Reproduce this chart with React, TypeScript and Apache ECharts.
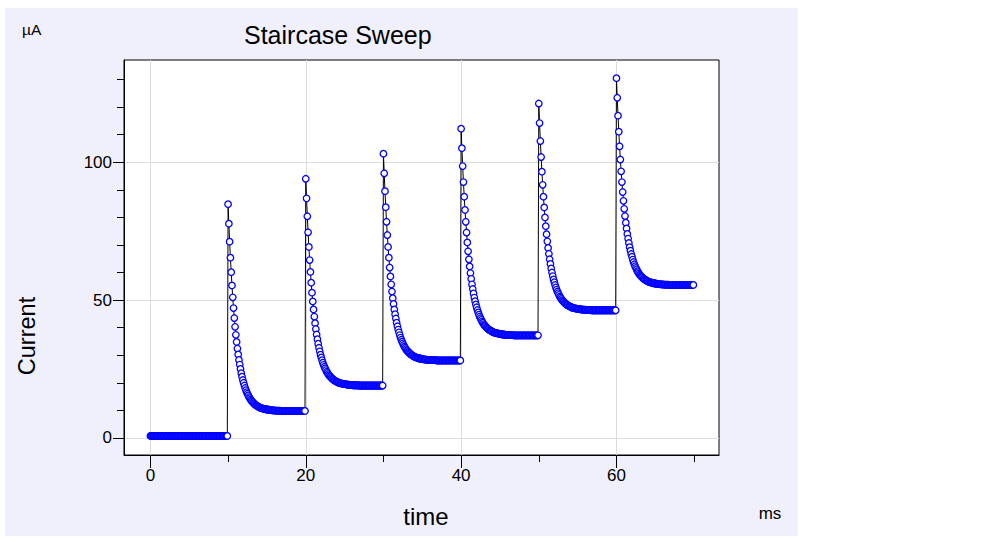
import React, { useEffect, useRef } from "react";
import * as echarts from "echarts";

const FONT = "'Liberation Sans', Arial, sans-serif";

// time between samples (ms) and samples recorded in each 10 ms step
const SAMPLE_STEP_MS = 0.1;
const SAMPLES_PER_STEP = 100;

// start time (ms) of each potential step and the settled current (µA) it reaches
const STEP_START_MS = [0, 10, 20, 30, 40, 50, 60];
const STEP_LEVEL_UA = [0.7, 9.8, 19.0, 28.1, 37.2, 46.3, 55.5];

// charging transient: current above the settled level (µA), per sample after a step
const TRANSIENT_UA = [
  75.0, 67.9, 61.4, 55.6, 50.3, 45.5, 41.2, 37.3, 33.7, 30.5,
  27.6, 25.0, 22.6, 20.5, 18.5, 16.8, 15.2, 13.7, 12.4, 11.2,
  10.2, 9.2, 8.3, 7.5, 6.8, 6.2, 5.6, 5.0, 4.6, 4.1,
  3.7, 3.4, 3.1, 2.8, 2.5, 2.3, 2.0, 1.9, 1.7, 1.5,
  1.4, 1.2, 1.1, 1.0, 0.9, 0.8, 0.8, 0.7, 0.6, 0.6,
  0.5, 0.5, 0.4, 0.4, 0.3, 0.3, 0.3, 0.2, 0.2, 0.2,
  0.2, 0.1, 0.1, 0.1, 0.1, 0.1, 0.1, 0.1, 0.0, 0.0,
  0.0, 0.0, 0.0, 0.0, 0.0, 0.0, 0.0, 0.0, 0.0, 0.0,
  0.0, 0.0, 0.0, 0.0, 0.0, 0.0, 0.0, 0.0, 0.0, 0.0,
  0.0, 0.0, 0.0, 0.0, 0.0, 0.0, 0.0, 0.0, 0.0, 0.0,
];

const X_MAJOR_TICKS = [0, 20, 40, 60];
const X_MINOR_TICKS = [10, 30, 50, 70];
const Y_MAJOR_TICKS = [0, 50, 100];
const Y_MINOR_TICKS = [10, 20, 30, 40, 60, 70, 80, 90, 110, 120, 130];

const X_MIN = -3.4;
const X_MAX = 73.2;
const Y_MIN = -6.2;
const Y_MAX = 137.1;

function buildData(): [number, number][] {
  const out: [number, number][] = [];
  STEP_START_MS.forEach((start, s) => {
    for (let k = 0; k < SAMPLES_PER_STEP; k++) {
      const t = Math.round((start + k * SAMPLE_STEP_MS) * 10) / 10;
      const v = STEP_LEVEL_UA[s] + (s === 0 ? 0 : TRANSIENT_UA[k]);
      out.push([t, v]);
    }
  });
  return out;
}

export default function App() {
  const ref = useRef<HTMLDivElement>(null);

  useEffect(() => {
    document.body.style.margin = "0";
    if (!ref.current) return;
    const chart = echarts.init(ref.current, undefined, { renderer: "svg" });
    const black = { color: "#000000", width: 1 };

    chart.setOption({
      animation: false,
      backgroundColor: "#ffffff",
      textStyle: { fontFamily: FONT },
      grid: {
        left: 124,
        top: 60,
        right: 266,
        bottom: 89,
        show: true,
        backgroundColor: "#ffffff",
        borderColor: "#000000",
        borderWidth: 1,
        containLabel: false,
        outerBoundsMode: "none",
      },
      xAxis: [
        {
          type: "value",
          min: X_MIN,
          max: X_MAX,
          position: "bottom",
          axisLine: { show: true, onZero: false, lineStyle: black },
          axisTick: { show: true, customValues: X_MAJOR_TICKS, length: 13, lineStyle: black },
          axisLabel: {
            show: true,
            customValues: X_MAJOR_TICKS,
            color: "#000000",
            fontSize: 17,
            fontFamily: FONT,
            margin: 12,
          },
          splitLine: { show: true, lineStyle: { color: "#dcdcdc", width: 1 } },
          minorTick: { show: false },
        },
        {
          type: "value",
          min: X_MIN,
          max: X_MAX,
          position: "bottom",
          axisLine: { show: false, onZero: false },
          axisTick: { show: true, customValues: X_MINOR_TICKS, length: 7, lineStyle: black },
          axisLabel: { show: false },
          splitLine: { show: false },
        },
      ],
      yAxis: [
        {
          type: "value",
          min: Y_MIN,
          max: Y_MAX,
          position: "left",
          axisLine: { show: true, onZero: false, lineStyle: black },
          axisTick: { show: true, customValues: Y_MAJOR_TICKS, length: 11, lineStyle: black },
          axisLabel: {
            show: true,
            customValues: Y_MAJOR_TICKS,
            color: "#000000",
            fontSize: 17,
            fontFamily: FONT,
            margin: 12,
          },
          splitLine: { show: true, lineStyle: { color: "#dcdcdc", width: 1 } },
        },
        {
          type: "value",
          min: Y_MIN,
          max: Y_MAX,
          position: "left",
          axisLine: { show: false, onZero: false },
          axisTick: { show: true, customValues: Y_MINOR_TICKS, length: 7, lineStyle: black },
          axisLabel: { show: false },
          splitLine: { show: false },
        },
      ],
      series: [
        {
          type: "line",
          xAxisIndex: 0,
          yAxisIndex: 0,
          data: buildData(),
          symbol: "circle",
          symbolSize: 6.5,
          showSymbol: true,
          showAllSymbol: true,
          lineStyle: { color: "#000000", width: 1 },
          itemStyle: { color: "#ffffff", borderColor: "#0000ff", borderWidth: 1.3 },
          emphasis: { disabled: true },
          silent: true,
        },
      ],
      graphic: [
        {
          type: "rect",
          z: -100,
          silent: true,
          shape: { x: 5, y: 8, width: 793, height: 528 },
          style: { fill: "#f0f0fc" },
        },
        {
          type: "text",
          x: 22,
          y: 29.5,
          silent: true,
          style: { text: "µA", fontSize: 15.5, fontFamily: FONT, fill: "#000000", align: "left", verticalAlign: "middle" },
        },
        {
          type: "text",
          x: 244,
          y: 35,
          silent: true,
          style: { text: "Staircase Sweep", fontSize: 25, fontFamily: FONT, fill: "#000000", align: "left", verticalAlign: "middle" },
        },
        {
          type: "text",
          x: 27,
          y: 336,
          rotation: Math.PI / 2,
          silent: true,
          style: { text: "Current", fontSize: 23.5, fontFamily: FONT, fill: "#000000", align: "center", verticalAlign: "middle" },
        },
        {
          type: "text",
          x: 426,
          y: 516,
          silent: true,
          style: { text: "time", fontSize: 24, fontFamily: FONT, fill: "#000000", align: "center", verticalAlign: "middle" },
        },
        {
          type: "text",
          x: 770,
          y: 513,
          silent: true,
          style: { text: "ms", fontSize: 17, fontFamily: FONT, fill: "#000000", align: "center", verticalAlign: "middle" },
        },
      ],
    });

    return () => {
      chart.dispose();
    };
  }, []);

  return <div ref={ref} style={{ width: 985, height: 544 }} />;
}
